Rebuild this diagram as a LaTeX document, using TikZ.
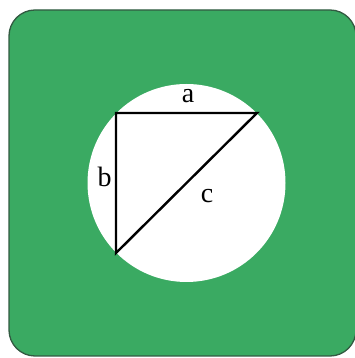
\documentclass[tikz,border=0pt]{standalone}
\usepackage{fontspec}
\setmainfont{Liberation Serif}
\begin{document}
\begin{tikzpicture}[x=1pt,y=1pt,
  lbl/.style={font=\fontsize{28}{32}\selectfont, inner sep=0pt},
  side/.style={line width=2.4pt, line join=miter}]
\definecolor{bggreen}{RGB}{58,170,98}
\definecolor{edgegreen}{RGB}{50,90,65}
\useasboundingbox (0,0) rectangle (355,358);
\fill[white] (0,0) rectangle (355,358);
\filldraw[fill=bggreen, draw=edgegreen, line width=1.3pt, rounded corners=26pt] (9,2) rectangle (356,348);
\node[circle, fill=white, minimum size=198pt, inner sep=0pt] (circ) at (186.5,175) {};
\coordinate (A) at (116,245);
\coordinate (B) at (257,245);
\coordinate (C) at (116,105);
\draw[side] (A) -- (B) -- (C) -- cycle;
\node[lbl] (la) at (188,262) {a};
\node[lbl] (lb) at (104.5,181) {b};
\node[lbl] (lc) at (207,162) {c};
\end{tikzpicture}
\end{document}
